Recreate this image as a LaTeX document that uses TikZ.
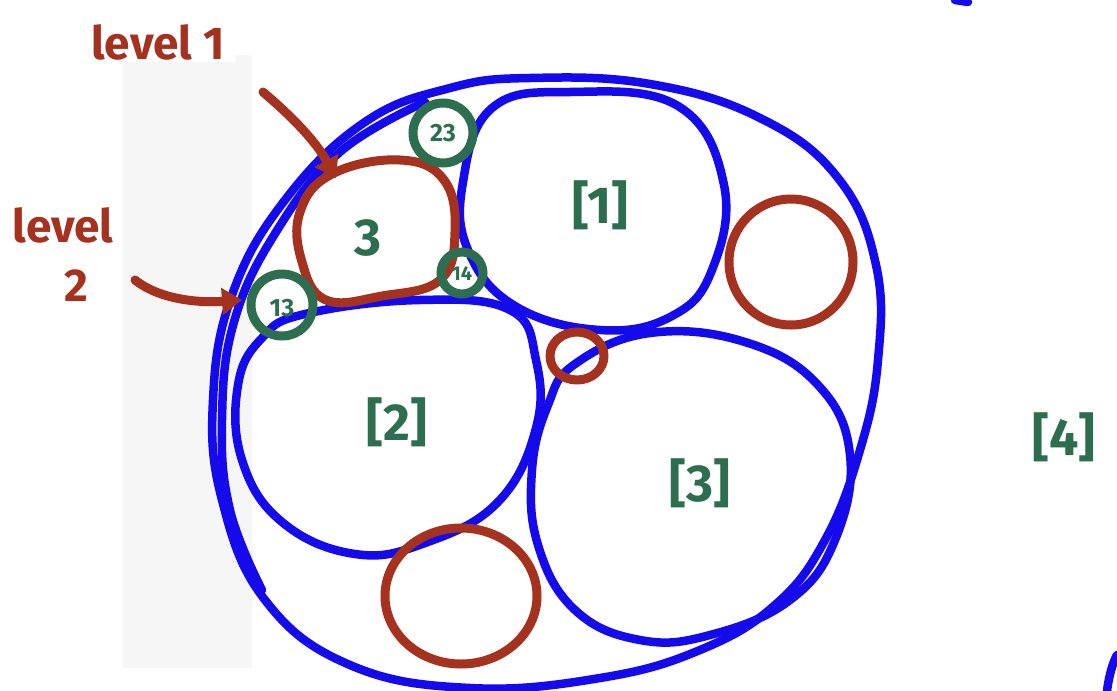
\documentclass[tikz,border=0pt]{standalone}
\usepackage{fontspec}
\setmainfont{Fira Sans}
\usetikzlibrary{arrows.meta}
\definecolor{pblue}{RGB}{20,10,235}
\definecolor{pred}{RGB}{165,50,30}
\definecolor{pgreen}{RGB}{45,110,80}
\tikzset{
  bluepen/.style={draw=pblue,line width=8.5pt,line cap=round,line join=round},
  redpen/.style={draw=pred,line width=9pt,line cap=round,line join=round},
  greenpen/.style={draw=pgreen,line width=9pt},
  glabel/.style={text=pgreen,font=\bfseries\fontsize{52}{54}\selectfont},
  gsmall/.style={text=pgreen,font=\bfseries\fontsize{25}{26}\selectfont},
  gtiny/.style={text=pgreen,font=\bfseries\fontsize{20}{21}\selectfont},
  rlabel/.style={text=pred,font=\bfseries\fontsize{46}{48}\selectfont},
  redarrow/.style={draw=pred,line width=9pt,line cap=round,-{Triangle[length=20pt,width=26pt]}}
}
\begin{document}
\begin{tikzpicture}[x=1pt,y=-1pt]
\useasboundingbox (0,0) rectangle (1117,691);
\fill[white] (0,0) rectangle (1117,691);
% pale scan strip
\fill[gray!7] (123,55) rectangle (252,668);
\fill[white] (80,12) rectangle (235,62);
\fill[white] (5,195) rectangle (122,305);
% outer blue
\draw[bluepen] plot[smooth cycle,tension=0.7] coordinates {
 (530,78) (650,84) (760,118) (838,178) (876,265) (878,360) (860,450)
 (825,540) (775,605) (700,650) (600,678) (470,688) (350,665) (265,600)
 (222,500) (213,400) (232,295) (285,200) (365,122) (450,88)};
\draw[bluepen] plot[smooth,tension=0.7] coordinates {
 (425,102) (340,152) (276,232) (234,322) (222,420) (230,510) (262,590)};
% [1]
\draw[bluepen] plot[smooth cycle,tension=0.7] coordinates {
 (492,108) (570,92) (678,106) (724,185) (712,270) (672,316) (600,330)
 (515,306) (468,250) (463,182)};
% [2]
\draw[bluepen] plot[smooth cycle,tension=0.7] coordinates {
 (305,314) (420,300) (510,310) (536,360) (536,428) (498,502) (425,543)
 (355,554) (282,522) (242,460) (238,385) (262,338)};
% [3]
\draw[bluepen] plot[smooth cycle,tension=0.7] coordinates {
 (575,364) (650,333) (745,342) (818,385) (850,455) (835,540) (790,600)
 (710,635) (640,640) (575,610) (538,545) (532,470) (548,405)};
% partial blue marks at edges
\draw[bluepen] (955,0) -- (968,2);
\draw[bluepen] (1107,691) .. controls (1109,675) and (1113,662) .. (1117,655);
% red circles
\draw[redpen] plot[smooth cycle,tension=0.7] coordinates {
 (332,174) (400,160) (444,180) (455,232) (440,280) (382,296) (326,300)
 (302,262) (300,212)};
\draw[redpen] (791,262) ellipse[x radius=62,y radius=63];
\draw[redpen] (461,596) ellipse[x radius=76,y radius=68];
\draw[redpen] (577,356) ellipse[x radius=27,y radius=24];
% green circles
\draw[greenpen] (443,133) circle[radius=30];
\draw[greenpen] (282,305) circle[radius=31];
\draw[greenpen] (462,273) circle[radius=21];
\node[gsmall] (n23) at (443,133) {23};
\node[gsmall] (n13) at (282,308) {13};
\node[gtiny] (n14) at (462,274) {14};
% green labels
\node[glabel] (n3) at (368,238) {3};
\node[glabel] (b1) at (600,205) {[1]};
\node[glabel] (b2) at (397,422) {[2]};
\node[glabel] (b3) at (700,483) {[3]};
\node[glabel] (b4) at (1064,437) {[4]};
% red labels and arrows
\node[rlabel] (l1) at (158,42) {level 1};
\node[rlabel] (l2a) at (63,225) {level};
\node[rlabel] (l2b) at (76,286) {2};
\coordinate (a1s) at (263,92);
\coordinate (a1e) at (336,178);
\coordinate (a2s) at (135,280);
\coordinate (a2e) at (242,300);
\draw[redarrow] (a1s) .. controls (290,115) and (315,140) .. (a1e);
\draw[redarrow] (a2s) .. controls (160,300) and (200,303) .. (a2e);
\end{tikzpicture}
\end{document}
